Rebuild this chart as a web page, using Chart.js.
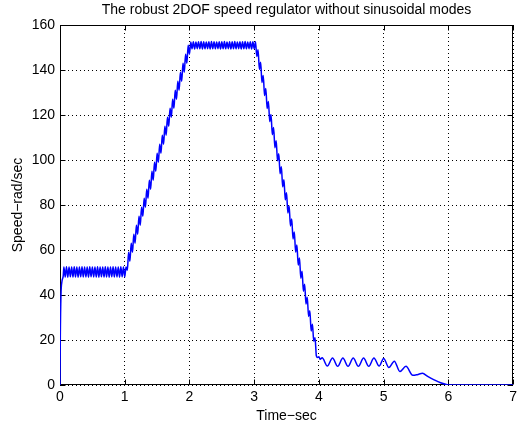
<!DOCTYPE html>
<html>
<head>
<meta charset="utf-8">
<script src="https://cdn.jsdelivr.net/npm/chart.js@4"></script>
<style>
body { margin: 0; background: #fff; }
#wrap { width: 521px; height: 425px; }
</style>
</head>
<body>
<div id="wrap"><canvas id="grafico"></canvas></div>
<script>
// Arranque y primera meseta (~50 rad/s)
const timeStart = [0, 0.005, 0.015, 0.03, 0.05,
  0.06, 0.08, 0.10, 0.12, 0.14, 0.16, 0.18, 0.20, 0.22, 0.24, 0.26, 0.28, 0.30, 0.32, 0.34, 0.36,
  0.38, 0.40, 0.42, 0.44, 0.46, 0.48, 0.50, 0.52, 0.54, 0.56, 0.58, 0.60, 0.62, 0.64, 0.66, 0.68,
  0.70, 0.72, 0.74, 0.76, 0.78, 0.80, 0.82, 0.84, 0.86, 0.88, 0.90, 0.92, 0.94, 0.96, 0.98, 1.00];
const speedStart = [0, 22, 40, 46, 48.5,
  52.5, 48.0, 52.6, 47.9, 52.4, 48.1, 52.5, 48.0,
  52.6, 48.0, 52.4, 47.9, 52.5, 48.1, 52.6, 48.0,
  52.4, 48.0, 52.5, 47.9, 52.6, 48.1, 52.4, 48.0,
  52.5, 48.0, 52.6, 47.9, 52.4, 48.1, 52.5, 48.0,
  52.6, 48.0, 52.4, 47.9, 52.5, 48.1, 52.6, 48.0,
  52.4, 48.0, 52.5, 47.9, 52.6, 48.1, 52.4, 48.0];

// Rampa de subida
const timeRampUp = [1.02, 1.04, 1.06, 1.08, 1.10, 1.12, 1.14, 1.16, 1.18, 1.20, 1.22, 1.24, 1.26,
  1.28, 1.30, 1.32, 1.34, 1.36, 1.38, 1.40, 1.42, 1.44, 1.46, 1.48, 1.50, 1.52, 1.54, 1.56, 1.58,
  1.60, 1.62, 1.64, 1.66, 1.68, 1.70, 1.72, 1.74, 1.76, 1.78, 1.80, 1.82, 1.84, 1.86, 1.88, 1.90,
  1.92, 1.94, 1.96, 1.98, 2.00, 2.02];
const speedRampUp = [52.5, 51, 59, 55, 63, 59, 67, 63, 71, 67, 75, 71, 79,
  75, 83, 79, 87, 83, 91, 87, 95, 91, 99, 95, 103, 99, 107, 103, 111,
  107, 115, 111, 119, 115, 123, 119, 127, 123, 131, 127, 135, 131, 139, 135, 143,
  139, 147, 143, 151, 147, 152.5];

// Meseta superior (~151 rad/s)
const timeTop = [2.04, 2.06, 2.08, 2.10, 2.12, 2.14, 2.16, 2.18, 2.20, 2.22, 2.24, 2.26, 2.28,
  2.30, 2.32, 2.34, 2.36, 2.38, 2.40, 2.42, 2.44, 2.46, 2.48, 2.50, 2.52, 2.54, 2.56, 2.58, 2.60,
  2.62, 2.64, 2.66, 2.68, 2.70, 2.72, 2.74, 2.76, 2.78, 2.80, 2.82, 2.84, 2.86, 2.88, 2.90, 2.92,
  2.94, 2.96, 2.98, 3.00, 3.02];
const speedTop = [149.4, 152.6, 149.3, 152.5, 149.5, 152.6, 149.4, 152.7, 149.3, 152.6,
  149.4, 152.5, 149.5, 152.6, 149.3, 152.7, 149.4, 152.6, 149.4, 152.5,
  149.5, 152.6, 149.3, 152.6, 149.4, 152.7, 149.4, 152.5, 149.5, 152.6,
  149.3, 152.6, 149.4, 152.7, 149.4, 152.5, 149.5, 152.6, 149.3, 152.6,
  149.4, 152.7, 149.4, 152.5, 149.5, 152.6, 149.3, 152.6, 149.4, 152.6];

// Rampa de bajada
const timeRampDown = [3.04, 3.06, 3.08, 3.10, 3.12, 3.14, 3.16, 3.18, 3.20, 3.22, 3.24, 3.26,
  3.28, 3.30, 3.32, 3.34, 3.36, 3.38, 3.40, 3.42, 3.44, 3.46, 3.48, 3.50, 3.52, 3.54, 3.56, 3.58,
  3.60, 3.62, 3.64, 3.66, 3.68, 3.70, 3.72, 3.74, 3.76, 3.78, 3.80, 3.82, 3.84, 3.86, 3.88, 3.90,
  3.92, 3.94, 3.96, 3.98];
const speedRampDown = [146, 149, 140.3, 143.4, 134.5, 137.6, 128.7, 131.8, 122.9, 126, 117.1, 120.2,
  111.3, 114.4, 105.5, 108.6, 99.7, 102.8, 93.9, 97, 88.1, 91.2, 82.3, 85.4, 76.5, 79.6, 70.7, 73.8,
  64.9, 68, 59.1, 62.2, 53.3, 56.4, 47.5, 50.6, 41.7, 44.8, 36, 39, 30.5, 33, 24, 27,
  19.5, 21, 13, 12.2];

// Oscilaciones finales y parada
const timeTail = [4.00, 4.02, 4.05, 4.13, 4.21, 4.29, 4.37, 4.45, 4.53, 4.61, 4.69, 4.77, 4.85,
  4.93, 5.00, 5.08, 5.165, 5.25, 5.345, 5.45, 5.52, 5.60, 5.68, 5.78, 5.88, 5.97, 6.00, 7.00];
const speedTail = [12.6, 11.4, 12.1, 8.4, 12.0, 8.3, 12.0, 8.3, 12.0, 8.3, 12.0, 8.3, 12.0,
  8.4, 11.8, 7.8, 10.6, 6.0, 8.3, 4.3, 4.6, 5.2, 3.8, 2.3, 1.0, 0.2, 0, 0];

const xTicks = [0, 1, 2, 3, 4, 5, 6, 7];
const yTicks = [0, 20, 40, 60, 80, 100, 120, 140, 160];

const allTime = [...timeStart, ...timeRampUp, ...timeTop, ...timeRampDown, ...timeTail];
const allSpeed = [...speedStart, ...speedRampUp, ...speedTop, ...speedRampDown, ...speedTail];
const puntos = allTime.map((t, i) => ({ x: t, y: allSpeed[i] }));

const fuente = '"Liberation Sans", Arial, Helvetica, sans-serif';

// Marco y marcas hacia dentro, estilo MATLAB
const marco = {
  id: 'marco',
  beforeDatasetsDraw(chart) {
    const { ctx, chartArea: a, scales } = chart;
    const L = Math.round(a.left) + 0.5, R = Math.round(a.right) - 0.5;
    const T = Math.round(a.top) + 0.5, B = Math.round(a.bottom) - 0.5;
    ctx.save();
    ctx.strokeStyle = '#000';
    ctx.lineWidth = 1;
    ctx.strokeRect(L, T, R - L, B - T);
    ctx.beginPath();
    xTicks.forEach(v => {
      const px = Math.round(scales.x.getPixelForValue(v)) + 0.5;
      ctx.moveTo(px, B); ctx.lineTo(px, B - 5);
      ctx.moveTo(px, T); ctx.lineTo(px, T + 5);
    });
    yTicks.forEach(v => {
      const py = Math.round(scales.y.getPixelForValue(v)) + 0.5;
      ctx.moveTo(L, py); ctx.lineTo(L + 5, py);
      ctx.moveTo(R, py); ctx.lineTo(R - 5, py);
    });
    ctx.stroke();
    ctx.restore();
  }
};

new Chart(document.getElementById('grafico').getContext('2d'), {
  type: 'line',
  data: {
    datasets: [{
      data: puntos,
      borderColor: '#0000ff',
      borderWidth: 1.5,
      pointRadius: 0,
      cubicInterpolationMode: 'monotone',
      fill: false
    }]
  },
  options: {
    responsive: true,
    maintainAspectRatio: false,
    animation: false,
    layout: { padding: { right: 7 } },
    plugins: {
      legend: { display: false },
      tooltip: { enabled: false },
      title: {
        display: true,
        text: 'The robust 2DOF speed regulator without sinusoidal modes',
        fullSize: false,
        color: '#000',
        font: { family: fuente, size: 14, weight: 'normal' },
        padding: { top: 2, bottom: 6.2 }
      }
    },
    scales: {
      x: {
        type: 'linear',
        min: 0,
        max: 7,
        afterFit(s) { s.height = 40; },
        afterBuildTicks(s) { s.ticks = xTicks.map(v => ({ value: v })); },
        ticks: { color: '#000', font: { family: fuente, size: 14 }, padding: 4 },
        grid: { color: '#000', drawTicks: false, lineWidth: 1 },
        border: { display: false, dash: [1, 3] },
        title: {
          display: true,
          text: 'Time−sec',
          color: '#000',
          font: { family: fuente, size: 14 },
          padding: { top: 0, bottom: 0 }
        }
      },
      y: {
        min: 0,
        max: 160,
        afterFit(s) { s.width = 60; },
        afterBuildTicks(s) { s.ticks = yTicks.map(v => ({ value: v })); },
        ticks: { color: '#000', font: { family: fuente, size: 14 }, padding: 5 },
        grid: { color: '#000', drawTicks: false, lineWidth: 1 },
        border: { display: false, dash: [1, 3] },
        title: {
          display: true,
          text: 'Speed−rad/sec',
          color: '#000',
          font: { family: fuente, size: 14 },
          padding: { top: 10, bottom: 0 }
        }
      }
    }
  },
  plugins: [marco]
});
</script>
</body>
</html>
